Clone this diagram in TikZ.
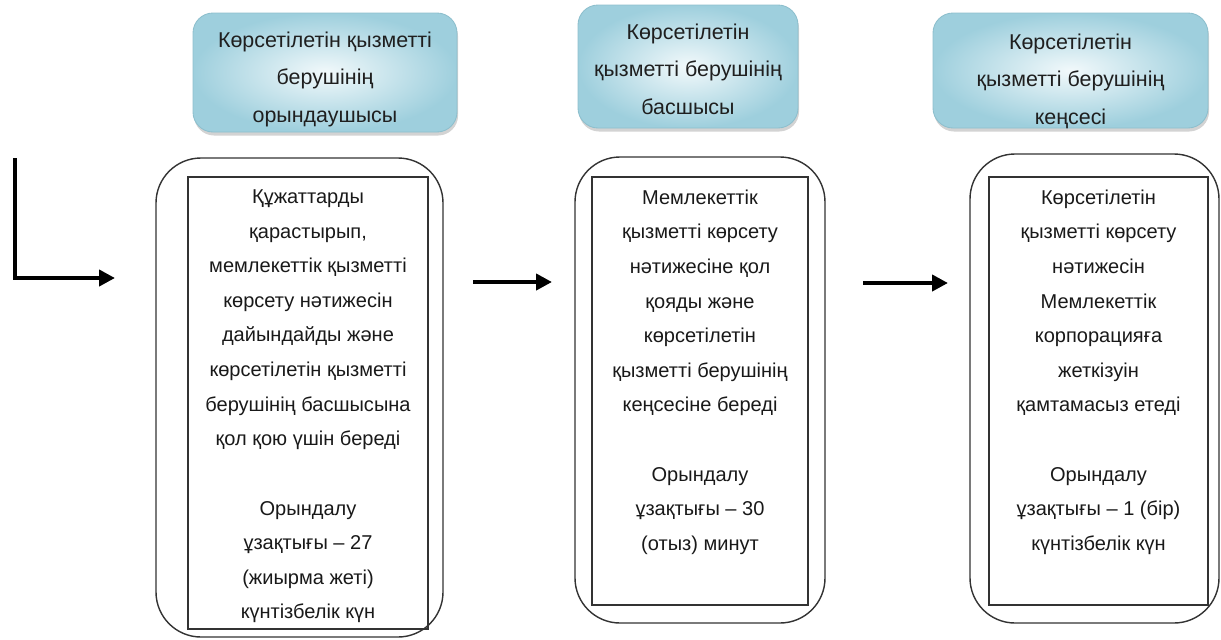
\documentclass[tikz,border=0pt]{standalone}
\usepackage{fontspec}
\setmainfont{Liberation Sans}
\usetikzlibrary{positioning,shadows,arrows.meta}

\definecolor{hdlight}{HTML}{F2F9FB}
\definecolor{hdblue}{HTML}{9ECFDD}
\definecolor{hdedge}{HTML}{8DBFCD}
\definecolor{frameline}{HTML}{333333}

\begin{document}
\begin{tikzpicture}

    \tikzset{
      header/.style={
        rounded corners=0.4cm,
        draw=hdedge,
        line width=0.5pt,
        shading=radial,
        inner color=hdlight,
        outer color=hdblue,
        drop shadow={shadow xshift=0.6pt, shadow yshift=-2pt, opacity=0.35},
        inner sep=0pt,
      },
      headtext/.style={
        inner sep=0pt,
        align=center,
        text=black!88,
        font=\fontsize{12.2}{21.3}\selectfont,
      },
      stepframe/.style={
        draw=frameline,
        line width=0.8pt,
        rounded corners=0.9cm,
        inner sep=0pt,
      },
      stepbox/.style={
        draw=frameline,
        line width=0.8pt,
        inner sep=0pt,
      },
      steptext/.style={
        inner sep=0pt,
        align=center,
        text=black!90,
        font=\fontsize{11.4}{19.7}\selectfont,
      },
      flow/.style={
        line width=2.3pt,
        -{Triangle[length=9pt,width=9pt]},
      },
    }
    \useasboundingbox (0,0) rectangle (24.42,-12.78);

	\node[header, minimum width=5.28cm, minimum height=2.38cm] (hdexec) at (6.5,-1.45) {};
	\node[header, minimum width=4.4cm, minimum height=2.46cm] (hdchief) at (13.76,-1.33) {};
	\node[header, minimum width=5.5cm, minimum height=2.3cm] (hdoffice) at (21.41,-1.41) {};
	\node[headtext, below=0.38cm of hdexec.north] (hdexectext) {Көрсетілетін қызметті\\берушінің\\орындаушысы};
	\node[headtext, below=0.38cm of hdchief.north] (hdchieftext) {Көрсетілетін\\қызметті берушінің\\басшысы};
	\node[headtext, below=0.42cm of hdoffice.north] (hdofficetext) {Көрсетілетін\\қызметті берушінің\\кеңсесі};

	\node[stepframe, minimum width=5.74cm, minimum height=9.58cm] (frameexec) at (5.99,-7.95) {};
	\node[stepframe, minimum width=5.0cm, minimum height=9.32cm] (framechief) at (14.0,-7.8) {};
	\node[stepframe, minimum width=4.98cm, minimum height=9.38cm] (frameoffice) at (21.89,-7.77) {};
	\node[stepbox, minimum width=4.8cm, minimum height=9.04cm] (boxexec) at (6.16,-8.06) {};
	\node[stepbox, minimum width=4.32cm, minimum height=8.56cm] (boxchief) at (14.0,-7.82) {};
	\node[stepbox, minimum width=4.38cm, minimum height=8.56cm] (boxoffice) at (21.97,-7.82) {};

	\node[steptext, below=0.26cm of boxexec.north] (textexec) {Құжаттарды\\қарастырып,\\мемлекеттік қызметті\\көрсету нәтижесін\\дайындайды және\\көрсетілетін қызметті\\берушінің басшысына\\қол қою үшін береді\\[19.7pt]Орындалу\\ұзақтығы – 27\\(жиырма жеті)\\күнтізбелік күн};
	\node[steptext, below=0.26cm of boxchief.north] (textchief) {Мемлекеттік\\қызметті көрсету\\нәтижесіне қол\\қояды және\\көрсетілетін\\қызметті берушінің\\кеңсесіне береді\\[19.7pt]Орындалу\\ұзақтығы – 30\\(отыз) минут};
	\node[steptext, below=0.26cm of boxoffice.north] (textoffice) {Көрсетілетін\\қызметті көрсету\\нәтижесін\\Мемлекеттік\\корпорацияға\\жеткізуін\\қамтамасыз етеді\\[19.7pt]Орындалу\\ұзақтығы – 1 (бір)\\күнтізбелік күн};

	\coordinate (instart) at (0.3,-3.16);
	\coordinate (inbend) at (0.3,-5.56);
	\coordinate (intip) at (2.3,-5.56);
	\coordinate (midstart) at (9.46,-5.64);
	\coordinate (midtip) at (11.04,-5.64);
	\coordinate (laststart) at (17.26,-5.66);
	\coordinate (lasttip) at (18.96,-5.66);
	\draw[flow] (instart) -- (inbend) -- (intip);
	\draw[flow] (midstart) -- (midtip);
	\draw[flow] (laststart) -- (lasttip);

\end{tikzpicture}
\end{document}
